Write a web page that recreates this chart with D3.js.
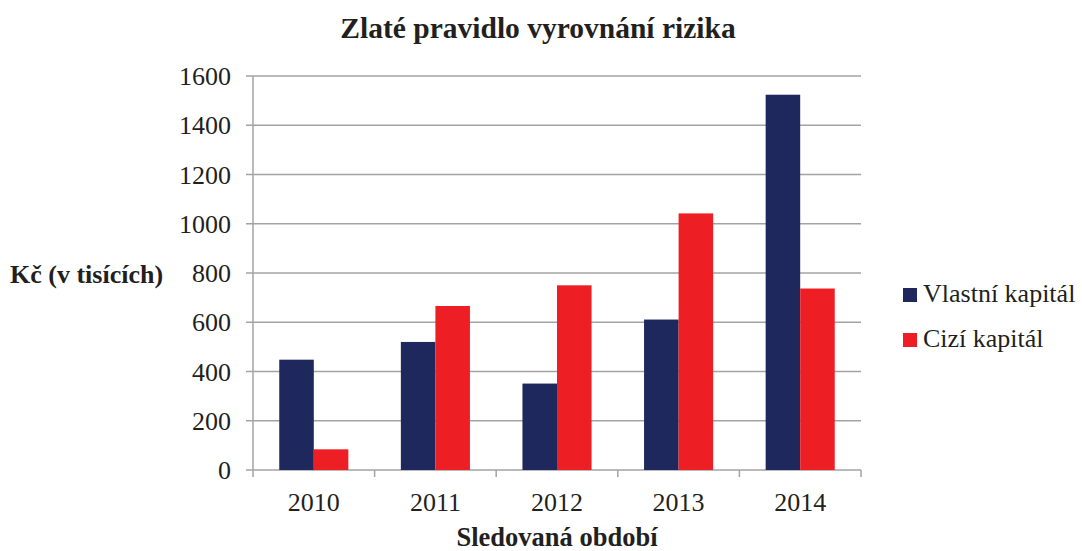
<!DOCTYPE html>
<html lang="cs">
  <head>
    <meta charset="utf-8">
    <title>Zlaté pravidlo vyrovnání rizika</title>
    <script type="text/javascript" src="https://d3js.org/d3.v7.min.js"></script>
    <style type="text/css">
      body {
        margin: 0;
        background: #ffffff;
      }
      text {
        font-family: "Liberation Serif", "Times New Roman", serif;
        fill: #231f20;
      }
    </style>
  </head>
  <body>
    <div id="chart"></div>

    <script type="text/javascript">
      // data
      var years = ["2010", "2011", "2012", "2013", "2014"];
      var vlastni = [448, 520, 351, 611, 1524];
      var cizi = [84, 666, 750, 1042, 737];
      var seriesNames = ["Vlastní kapitál", "Cizí kapitál"];
      var yTicks = [0, 200, 400, 600, 800, 1000, 1200, 1400, 1600];

      var w = 1082;
      var h = 551;
      var plotLeft = 253, plotRight = 861, plotTop = 76, plotBottom = 470;
      var colors = ["#1f285c", "#ed1f24"];
      var gridColor = "#a3a3a3";

      var svg = d3.select("#chart")
                  .append("svg")
                  .attr("width", w)
                  .attr("height", h);

      var xScale = d3.scaleBand()
                     .domain(years)
                     .range([plotLeft, plotRight]);

      // two bars side by side inside each year
      var xInner = d3.scaleBand()
                     .domain([0, 1])
                     .range([0, xScale.bandwidth()])
                     .paddingOuter(0.76);

      var yScale = d3.scaleLinear()
                     .domain([0, 1600])
                     .range([plotBottom, plotTop]);

      // gridlines
      svg.append("g")
         .selectAll("line")
         .data(yTicks)
         .enter()
         .append("line")
         .attr("x1", plotLeft - 7)
         .attr("x2", plotRight)
         .attr("y1", function(d) { return yScale(d); })
         .attr("y2", function(d) { return yScale(d); })
         .attr("stroke", gridColor)
         .attr("stroke-width", 1.5);

      // y axis line
      svg.append("line")
         .attr("x1", plotLeft).attr("x2", plotLeft)
         .attr("y1", plotTop).attr("y2", plotBottom)
         .attr("stroke", gridColor)
         .attr("stroke-width", 1.5);

      // y tick labels
      svg.append("g")
         .selectAll("text")
         .data(yTicks)
         .enter()
         .append("text")
         .attr("x", 231)
         .attr("y", function(d) { return yScale(d) + 9; })
         .attr("text-anchor", "end")
         .attr("font-size", "26px")
         .text(function(d) { return d; });

      // x tick marks at band boundaries
      var bounds = years.map(function(d) { return xScale(d); }).concat([plotRight]);
      svg.append("g")
         .selectAll("line")
         .data(bounds)
         .enter()
         .append("line")
         .attr("x1", function(d) { return d; })
         .attr("x2", function(d) { return d; })
         .attr("y1", plotBottom)
         .attr("y2", plotBottom + 7)
         .attr("stroke", gridColor)
         .attr("stroke-width", 1.5);

      // x tick labels
      svg.append("g")
         .selectAll("text")
         .data(years)
         .enter()
         .append("text")
         .attr("x", function(d) { return xScale(d) + xScale.bandwidth() / 2; })
         .attr("y", 511)
         .attr("text-anchor", "middle")
         .attr("font-size", "26px")
         .text(function(d) { return d; });

      // bars
      var series = [vlastni, cizi];
      series.forEach(function(values, s) {
        svg.append("g")
           .selectAll("rect")
           .data(values)
           .enter()
           .append("rect")
           .attr("x", function(d, i) { return xScale(years[i]) + xInner(s); })
           .attr("y", function(d) { return yScale(d); })
           .attr("width", xInner.bandwidth())
           .attr("height", function(d) { return plotBottom - yScale(d); })
           .attr("fill", colors[s]);
      });

      // title
      svg.append("text")
         .attr("x", 538)
         .attr("y", 38)
         .attr("text-anchor", "middle")
         .attr("font-size", "29.5px")
         .attr("font-weight", "bold")
         .text("Zlaté pravidlo vyrovnání rizika");

      // axis titles
      svg.append("text")
         .attr("x", 10)
         .attr("y", 283)
         .attr("font-size", "26px")
         .attr("font-weight", "bold")
         .text("Kč (v tisících)");

      svg.append("text")
         .attr("x", 557)
         .attr("y", 546)
         .attr("text-anchor", "middle")
         .attr("font-size", "26.5px")
         .attr("font-weight", "bold")
         .text("Sledovaná období");

      // legend
      var legend = svg.append("g")
                      .selectAll("g")
                      .data(seriesNames)
                      .enter()
                      .append("g")
                      .attr("transform", function(d, i) {
                        return "translate(903," + (288 + i * 45) + ")";
                      });

      legend.append("rect")
            .attr("width", 14)
            .attr("height", 14)
            .attr("fill", function(d, i) { return colors[i]; });

      legend.append("text")
            .attr("x", 20)
            .attr("y", 14)
            .attr("font-size", "26px")
            .text(function(d) { return d; });
    </script>
  </body>
</html>
